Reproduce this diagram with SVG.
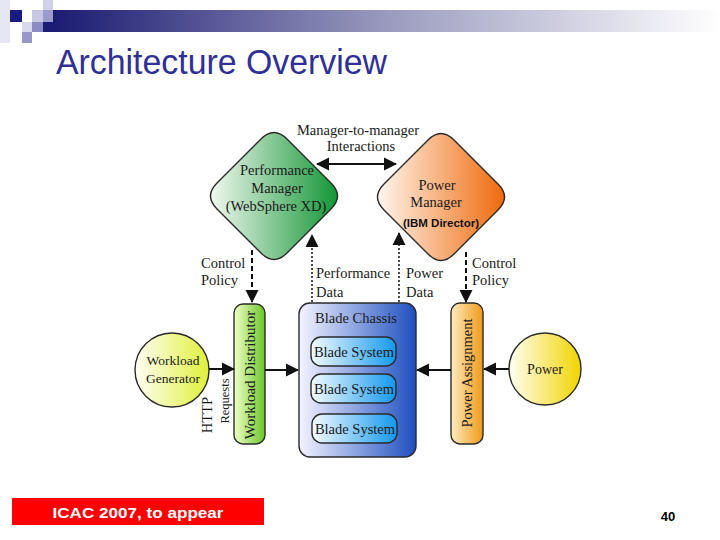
<svg xmlns="http://www.w3.org/2000/svg" width="720" height="540" viewBox="0 0 720 540">
<defs>
<linearGradient id="gBar" x1="0" y1="0" x2="1" y2="0"><stop offset="0" stop-color="#1b1b72"/><stop offset="0.5" stop-color="#9a9abf"/><stop offset="1" stop-color="#ffffff"/></linearGradient>
<linearGradient id="gGreen" x1="0" y1="0" x2="1" y2="0"><stop offset="0" stop-color="#f2f8f0"/><stop offset="1" stop-color="#139636"/></linearGradient>
<linearGradient id="gOrange" x1="0" y1="0" x2="1" y2="0"><stop offset="0" stop-color="#fff6ee"/><stop offset="1" stop-color="#ef6a0c"/></linearGradient>
<linearGradient id="gChassis" x1="0" y1="0" x2="1" y2="0"><stop offset="0" stop-color="#f4f4ff"/><stop offset="1" stop-color="#1e4fbf"/></linearGradient>
<linearGradient id="gBlade" x1="0" y1="0" x2="1" y2="0"><stop offset="0" stop-color="#f4fbff"/><stop offset="1" stop-color="#1398ee"/></linearGradient>
<linearGradient id="gDist" x1="0" y1="0" x2="1" y2="0"><stop offset="0" stop-color="#f0ffc4"/><stop offset="1" stop-color="#6ac62a"/></linearGradient>
<linearGradient id="gAssign" x1="0" y1="0" x2="1" y2="0"><stop offset="0" stop-color="#ffecc0"/><stop offset="1" stop-color="#f09a18"/></linearGradient>
<linearGradient id="gGen" x1="0" y1="0" x2="1" y2="0"><stop offset="0" stop-color="#fffff4"/><stop offset="1" stop-color="#dff03a"/></linearGradient>
<linearGradient id="gPow" x1="0" y1="0" x2="1" y2="0"><stop offset="0" stop-color="#fffff4"/><stop offset="1" stop-color="#f2d400"/></linearGradient>
<marker id="ah" markerUnits="userSpaceOnUse" markerWidth="14" markerHeight="14" refX="12" refY="6.5" orient="auto-start-reverse" viewBox="0 0 14 13"><path d="M0,0 L13,6.5 L0,13 z" fill="#111"/></marker>
</defs>
<style>
.sf{font-family:"Liberation Serif","Times New Roman",serif;font-size:14.5px;fill:#1a1a1a}
.ctr{text-anchor:middle}
.shape{stroke:#2a2a2a;stroke-width:1.4}
.ln{stroke:#111;fill:none}
.solid{stroke-width:2}
.dash{stroke-width:2;stroke-dasharray:5,3}
.dot{stroke-width:1.5;stroke-dasharray:2,2}
</style>
<g id="header">
<rect x="53" y="10" width="667" height="22" fill="url(#gBar)"/>
<rect x="0" y="0" width="10" height="43" fill="#e6e6f4"/>
<rect x="10" y="10" width="12" height="12" fill="#1a1a80"/>
<rect x="32" y="10" width="11" height="12" fill="#c8c8e6"/>
<rect x="43" y="0" width="10" height="10" fill="#d0d0ea"/>
<rect x="43" y="10" width="10" height="12" fill="#9c9ccc"/>
<rect x="43" y="22" width="10" height="10" fill="#1c1c74"/>
<rect x="22" y="22" width="10" height="10" fill="#d8d8ee"/>
<rect x="32" y="22" width="11" height="10" fill="#8c8cc4"/>
<rect x="22" y="32" width="10" height="11" fill="#9898c8"/>
<text x="56" y="74" font-family="Liberation Sans, Arial, sans-serif" font-size="35" fill="#2f2f96" textLength="331" lengthAdjust="spacingAndGlyphs">Architecture Overview</text>
</g>
<g id="perf-manager">
<path class="shape" fill="url(#gGreen)" d="M217,183 L261,139 Q274,126 287,139 L331,183 Q344,196 331,209 L287,253 Q274,266 261,253 L217,209 Q204,196 217,183 Z"/>
<text class="sf ctr" x="277" y="175">Performance</text>
<text class="sf ctr" x="277" y="193">Manager</text>
<text class="sf ctr" x="276" y="211">(WebSphere XD)</text>
</g>
<g id="power-manager">
<path class="shape" fill="url(#gOrange)" d="M384,184 L428,140 Q441,127 454,140 L498,184 Q511,197 498,210 L454,254 Q441,267 428,254 L384,210 Q371,197 384,184 Z"/>
<text class="sf ctr" x="437" y="190">Power</text>
<text class="sf ctr" x="436" y="207">Manager</text>
<text x="441" y="227" text-anchor="middle" font-family="Liberation Sans, Arial, sans-serif" font-size="11.5" font-weight="bold" fill="#111">(IBM Director)</text>
</g>
<g id="blade-chassis">
<rect class="shape" x="299" y="303" width="117" height="154" rx="11" fill="url(#gChassis)"/>
<text class="sf ctr" x="356" y="323">Blade Chassis</text>
</g>
<g id="blade-1">
<rect class="shape" x="311" y="337" width="85" height="29" rx="10" fill="url(#gBlade)"/>
<text class="sf ctr" x="354" y="357">Blade System</text>
</g>
<g id="blade-2">
<rect class="shape" x="311" y="374" width="85" height="29" rx="10" fill="url(#gBlade)"/>
<text class="sf ctr" x="354" y="394">Blade System</text>
</g>
<g id="blade-3">
<rect class="shape" x="312" y="414" width="85" height="29" rx="10" fill="url(#gBlade)"/>
<text class="sf ctr" x="355" y="434">Blade System</text>
</g>
<g id="workload-distributor">
<rect class="shape" x="234" y="304" width="31" height="140" rx="9" fill="url(#gDist)"/>
<text class="sf ctr" transform="translate(255,375) rotate(-90)" style="font-size:15px">Workload Distributor</text>
</g>
<g id="power-assignment">
<rect class="shape" x="451" y="303" width="32" height="141" rx="9" fill="url(#gAssign)"/>
<text class="sf ctr" transform="translate(472,373) rotate(-90)">Power Assignment</text>
</g>
<g id="workload-generator">
<circle class="shape" cx="172" cy="370" r="37" fill="url(#gGen)"/>
<text class="sf ctr" x="173" y="365" style="font-size:13.5px">Workload</text>
<text class="sf ctr" x="173" y="383" style="font-size:13.5px">Generator</text>
</g>
<g id="power">
<circle class="shape" cx="545" cy="369" r="36" fill="url(#gPow)"/>
<text class="sf ctr" x="545" y="374" style="font-size:14px">Power</text>
</g>
<g id="connectors">
<line class="ln solid" x1="317" y1="164" x2="396" y2="164" marker-start="url(#ah)" marker-end="url(#ah)"/>
<line class="ln dash" x1="252" y1="250" x2="252" y2="302" marker-end="url(#ah)"/>
<line class="ln dash" x1="466" y1="252" x2="466" y2="302" marker-end="url(#ah)"/>
<line class="ln dot" x1="312" y1="302" x2="312" y2="235" marker-end="url(#ah)"/>
<line class="ln dot" x1="399" y1="302" x2="399" y2="233" marker-end="url(#ah)"/>
<line class="ln solid" x1="209" y1="369" x2="234" y2="369" marker-end="url(#ah)"/>
<line class="ln solid" x1="265" y1="370" x2="298" y2="370" marker-end="url(#ah)"/>
<line class="ln solid" x1="509" y1="369" x2="484" y2="369" marker-end="url(#ah)"/>
<line class="ln solid" x1="451" y1="370" x2="417" y2="370" marker-end="url(#ah)"/>
</g>
<g id="labels">
<text class="sf ctr" x="358" y="135">Manager-to-manager</text>
<text class="sf ctr" x="361" y="151">Interactions</text>
<text class="sf" x="201" y="268">Control</text>
<text class="sf" x="201" y="285">Policy</text>
<text class="sf" x="472" y="268">Control</text>
<text class="sf" x="472" y="285">Policy</text>
<text class="sf" x="316" y="278">Performance</text>
<text class="sf" x="316" y="297">Data</text>
<text class="sf" x="406" y="278">Power</text>
<text class="sf" x="406" y="297">Data</text>
<text class="sf ctr" transform="translate(212,415) rotate(-90)">HTTP</text>
<text class="sf ctr" transform="translate(229,401) rotate(-90)" style="font-size:12.5px">Requests</text>
</g>
<g id="footer">
<rect x="12" y="498" width="252" height="27" fill="#ff0000"/>
<text x="138" y="518" text-anchor="middle" font-family="Liberation Sans, Arial, sans-serif" font-size="15.5" font-weight="bold" fill="#ffffff" textLength="171" lengthAdjust="spacingAndGlyphs">ICAC 2007, to appear</text>
<text x="668" y="521" text-anchor="middle" font-family="Liberation Sans, Arial, sans-serif" font-size="13" font-weight="bold" fill="#000">40</text>
</g>
</svg>
